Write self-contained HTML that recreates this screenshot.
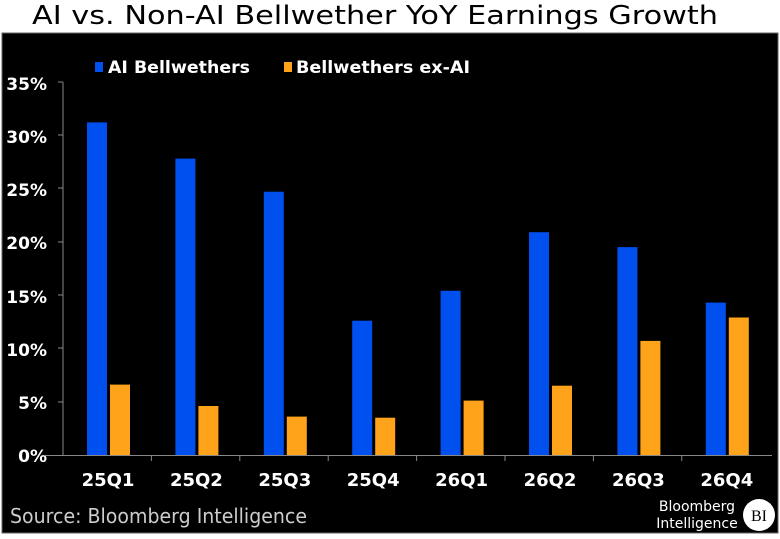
<!DOCTYPE html>
<html><head><style>
body{margin:0;background:#fff;width:780px;height:535px;overflow:hidden;font-family:"DejaVu Sans","Liberation Sans",sans-serif;}
</style></head><body>
<svg width="780" height="535" xmlns="http://www.w3.org/2000/svg" font-family="DejaVu Sans, Liberation Sans, sans-serif">
<rect x="0" y="0" width="780" height="535" fill="#fff"/>
<text x="32" y="24" font-size="26" fill="#000" textLength="686" lengthAdjust="spacingAndGlyphs">AI vs. Non-AI Bellwether YoY Earnings Growth</text>
<rect x="2" y="33" width="776" height="500" fill="#000" stroke="#666" stroke-width="1"/>
<g font-weight="bold" font-size="17" fill="#fff" text-anchor="end">
<text x="47" y="90">35%</text><text x="47" y="143">30%</text><text x="47" y="196">25%</text>
<text x="47" y="249">20%</text><text x="47" y="303">15%</text><text x="47" y="356">10%</text>
<text x="47" y="409">5%</text><text x="47" y="462">0%</text>
</g>
<g stroke="#888" stroke-width="1">
<line x1="63" y1="82" x2="63" y2="456"/>
<line x1="58" y1="82" x2="63" y2="82"/><line x1="58" y1="135" x2="63" y2="135"/>
<line x1="58" y1="188" x2="63" y2="188"/><line x1="58" y1="242" x2="63" y2="242"/>
<line x1="58" y1="295" x2="63" y2="295"/><line x1="58" y1="348" x2="63" y2="348"/>
<line x1="58" y1="402" x2="63" y2="402"/>
<line x1="44" y1="455.5" x2="772" y2="455.5"/>
<line x1="151.4" y1="455" x2="151.4" y2="461"/><line x1="239.8" y1="455" x2="239.8" y2="461"/>
<line x1="328.2" y1="455" x2="328.2" y2="461"/><line x1="416.6" y1="455" x2="416.6" y2="461"/>
<line x1="505" y1="455" x2="505" y2="461"/><line x1="593.4" y1="455" x2="593.4" y2="461"/>
<line x1="681.8" y1="455" x2="681.8" y2="461"/>
</g>
<g fill="#0050f0">
<rect x="87" y="122.4" width="20" height="332.6"/>
<rect x="175.4" y="158.6" width="20" height="296.4"/>
<rect x="263.8" y="191.7" width="20" height="263.3"/>
<rect x="352.2" y="320.7" width="20" height="134.3"/>
<rect x="440.6" y="290.8" width="20" height="164.2"/>
<rect x="529" y="232.2" width="20" height="222.8"/>
<rect x="617.4" y="247.1" width="20" height="207.9"/>
<rect x="705.8" y="302.6" width="20" height="152.4"/>
</g>
<g fill="#ffa31a">
<rect x="110" y="384.6" width="20" height="70.4"/>
<rect x="198.4" y="406" width="20" height="49"/>
<rect x="286.8" y="416.6" width="20" height="38.4"/>
<rect x="375.2" y="417.7" width="20" height="37.3"/>
<rect x="463.6" y="400.6" width="20" height="54.4"/>
<rect x="552" y="385.7" width="20" height="69.3"/>
<rect x="640.4" y="340.9" width="20" height="114.1"/>
<rect x="728.8" y="317.5" width="20" height="137.5"/>
</g>
<g font-weight="bold" font-size="18" fill="#fff" text-anchor="middle">
<text x="108" y="486">25Q1</text><text x="196.4" y="486">25Q2</text><text x="284.8" y="486">25Q3</text>
<text x="373.2" y="486">25Q4</text><text x="461.6" y="486">26Q1</text><text x="550" y="486">26Q2</text>
<text x="638.4" y="486">26Q3</text><text x="726.8" y="486">26Q4</text>
</g>
<rect x="95" y="62" width="8" height="10" fill="#0050f0"/>
<text x="108" y="73" font-weight="bold" font-size="17" fill="#fff" textLength="142" lengthAdjust="spacingAndGlyphs">AI Bellwethers</text>
<rect x="284" y="62" width="8" height="10" fill="#ffa31a"/>
<text x="296" y="73" font-weight="bold" font-size="17" fill="#fff" textLength="174" lengthAdjust="spacingAndGlyphs">Bellwethers ex-AI</text>
<text x="10" y="523" font-size="20" fill="#ccc" textLength="297" lengthAdjust="spacingAndGlyphs">Source: Bloomberg Intelligence</text>
<text x="697" y="511" font-size="14" fill="#fff" text-anchor="middle">Bloomberg</text>
<text x="697" y="528" font-size="14" fill="#fff" text-anchor="middle">Intelligence</text>
<circle cx="759" cy="515" r="16" fill="#fff"/>
<text x="759" y="521" font-size="16" fill="#000" text-anchor="middle" font-family="Liberation Serif, serif">BI</text>
</svg>
</body></html>
